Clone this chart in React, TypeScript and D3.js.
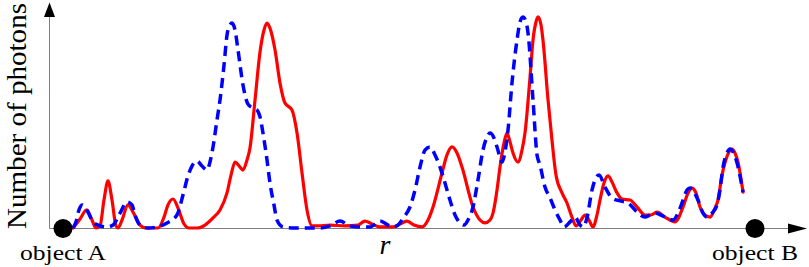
import React from "react";
import * as d3 from "d3";

// r: position between object A (0) and object B (100); counts in arbitrary units (0-100)
const redR = [1.45, 2.46, 3.42, 4.19, 4.77, 5.35, 5.92, 6.5, 7.08, 7.66, 7.95, 8.53, 9.39, 10.12, 11.13, 11.99, 13.73, 14.6, 15.17, 15.9, 16.62, 17.49, 18.21, 19.36, 20.52, 21.68, 22.69, 23.7, 24.28, 24.86, 25.58, 26.01, 26.59, 27.02, 27.75, 28.47, 29.05, 29.48, 29.91, 30.64, 31.36, 32.08, 33.09, 33.82, 34.54, 35.26, 35.98, 36.85, 38.58, 40.75, 42.63, 43.64, 44.65, 45.81, 47.69, 48.7, 49.71, 50.72, 51.88, 52.75, 53.47, 54.77, 55.49, 56.21, 56.94, 57.66, 59.25, 60.26, 60.98, 61.71, 62.14, 62.72, 63.15, 63.73, 64.16, 64.6, 65.03, 65.75, 66.33, 66.76, 67.49, 67.92, 68.35, 68.64, 69.08, 69.36, 70.09, 70.66, 71.24, 72.11, 72.83, 73.55, 74.13, 74.86, 75.43, 76.01, 76.59, 77.17, 77.6, 78.18, 78.76, 79.34, 80.06, 80.78, 81.94, 82.95, 84.1, 84.97, 85.84, 86.99, 88.44, 89.6, 90.32, 90.9, 91.47, 92.05, 92.77, 93.5, 94.22, 94.65, 95.23, 95.66, 96.24, 96.68, 97.11, 97.54, 98.27];
const redCounts = [0, 4.3, 8.6, 3.8, 0, 1.0, 13.3, 22.4, 13.3, 1.0, 0, 3.8, 11.0, 7.6, 1.4, 0, 0, 5.2, 11.0, 13.8, 9.5, 1.9, 0, 0, 1.4, 4.8, 8.6, 16.7, 25.2, 31.4, 29.0, 27.6, 32.4, 38.1, 61.0, 83.8, 94.3, 97.6, 95.2, 84.8, 69.0, 59.5, 56.2, 45.2, 26.2, 8.6, 1.0, 1.0, 1.4, 1.0, 1.4, 3.3, 1.9, 0.5, 0.5, 1.9, 3.3, 1.4, 0.5, 3.8, 10.0, 26.2, 34.8, 38.6, 35.7, 29.0, 10.0, 3.8, 2.4, 3.8, 7.1, 18.1, 29.0, 40.5, 45.2, 41.0, 35.7, 31.4, 37.1, 45.2, 71.9, 89.5, 98.1, 100.5, 96.7, 89.5, 61.0, 41.9, 25.2, 16.7, 11.9, 5.2, 1.0, 3.8, 6.2, 3.8, 0.5, 6.2, 13.3, 21.4, 24.8, 21.9, 16.7, 13.8, 13.3, 10.0, 6.2, 6.2, 7.6, 5.2, 2.9, 10.0, 16.7, 19.0, 16.7, 10.0, 6.2, 5.2, 9.5, 13.3, 25.2, 31.0, 36.2, 37.6, 35.7, 31.4, 17.1];

const blueR = [1.45, 1.88, 2.31, 2.75, 3.18, 3.61, 4.34, 5.06, 6.36, 7.23, 8.24, 9.25, 9.97, 10.4, 11.13, 12.28, 13.58, 15.03, 16.47, 17.34, 18.06, 18.64, 19.36, 20.09, 20.81, 21.24, 21.68, 22.25, 22.69, 23.27, 23.7, 24.13, 24.42, 24.86, 25.29, 26.01, 26.73, 27.46, 28.03, 28.47, 28.9, 29.48, 29.91, 30.49, 30.92, 31.79, 33.53, 37.14, 38.58, 40.03, 41.47, 42.92, 44.36, 45.81, 46.97, 47.69, 48.41, 49.28, 50.14, 50.87, 51.59, 52.31, 53.03, 53.76, 54.48, 55.2, 55.92, 56.65, 57.37, 57.95, 58.53, 59.25, 59.97, 60.69, 61.27, 61.71, 62.28, 62.72, 63.44, 63.87, 64.31, 64.88, 65.32, 65.61, 66.04, 66.47, 66.91, 67.2, 67.92, 68.5, 68.93, 69.65, 70.38, 71.1, 71.82, 72.4, 73.27, 73.99, 74.71, 75.14, 75.72, 76.45, 76.88, 77.46, 78.32, 79.34, 80.49, 81.65, 82.95, 84.1, 84.83, 85.55, 86.71, 88.15, 88.87, 89.6, 90.17, 90.61, 91.18, 91.76, 92.49, 93.06, 93.79, 94.51, 94.94, 95.38, 95.95, 96.39, 96.82, 97.4, 98.27];
const blueCounts = [0, 2.9, 8.6, 11.0, 10.0, 7.6, 2.9, 1.4, 0.5, 1.4, 7.1, 12.4, 11.0, 6.2, 1.4, 0, 0.5, 2.4, 6.2, 15.7, 24.8, 29.5, 31.9, 29.5, 27.6, 31.4, 38.6, 51.4, 61.0, 77.6, 91.9, 96.7, 97.6, 94.3, 84.8, 68.1, 59.0, 57.1, 56.2, 52.9, 45.2, 32.4, 21.4, 11.0, 3.8, 0.5, 0, 0, 1.0, 3.3, 1.0, 0.5, 0.5, 3.3, 1.4, 0.5, 1.4, 5.2, 10.0, 18.1, 29.0, 37.1, 38.6, 34.8, 29.0, 21.4, 13.3, 6.2, 2.4, 1.4, 3.8, 10.0, 22.9, 37.1, 43.3, 45.2, 42.9, 38.6, 31.4, 36.2, 46.7, 69.0, 82.4, 89.5, 98.1, 100.5, 98.1, 92.9, 61.0, 34.8, 30.0, 19.5, 14.3, 8.6, 3.8, 0.5, 2.9, 5.2, 1.4, 0.5, 4.8, 18.1, 22.9, 25.2, 19.5, 14.3, 12.9, 11.9, 7.6, 5.2, 6.2, 7.1, 5.7, 3.8, 7.1, 13.3, 18.1, 19.0, 17.1, 13.3, 7.1, 5.2, 7.1, 11.0, 18.1, 29.0, 35.7, 37.6, 36.2, 31.0, 17.1];

const objectLabels = ["object A", "object B"];
const objectR = [0, 100];
const yLabel = "Number of photons";
const xLabel = "r";

const W = 809;
const H = 267;

export default function App() {
  const x = d3.scaleLinear().domain([0, 100]).range([63, 755]);
  const y = d3.scaleLinear().domain([0, 100]).range([228, 18]);

  const line = d3
    .line<[number, number]>()
    .x((d) => x(d[0]))
    .y((d) => y(d[1]))
    .curve(d3.curveMonotoneX);

  const red = redR.map((r, i) => [r, redCounts[i]] as [number, number]);
  const blue = blueR.map((r, i) => [r, blueCounts[i]] as [number, number]);

  const axisX = 49.5;
  const axisY = 228.5;
  const font = "'Liberation Serif', 'Times New Roman', serif";

  return (
    <svg
      width={W}
      height={H}
      viewBox={`0 0 ${W} ${H}`}
      style={{ position: "absolute", left: 0, top: 0, background: "#fff" }}
    >
      <rect x={0} y={0} width={W} height={H} fill="#fff" />
      {/* axes */}
      <line x1={axisX} y1={axisY} x2={axisX} y2={16} stroke="#7f7f7f" strokeWidth={1} />
      <line x1={axisX} y1={axisY} x2={790} y2={axisY} stroke="#7f7f7f" strokeWidth={1} />
      <polygon points={`${axisX},2.5 ${axisX - 5.5},17 ${axisX + 5.5},17`} fill="#000" />
      <polygon points={`807,${axisY} 788,${axisY - 5} 788,${axisY + 5}`} fill="#000" />

      {/* curves */}
      <path d={line(red) || ""} fill="none" stroke="#ff0000" strokeWidth={3.2} strokeLinejoin="round" strokeLinecap="round" />
      <path d={line(blue) || ""} fill="none" stroke="#0000ff" strokeWidth={3.5} strokeDasharray="10,6" strokeLinejoin="round" />

      {/* objects */}
      {objectR.map((r, i) => (
        <g key={i}>
          <circle cx={x(r)} cy={axisY} r={9.5} fill="#000" />
          <text
            x={x(r)}
            y={260}
            textAnchor="middle"
            fontFamily={font}
            fontSize={20}
            textLength={86}
            lengthAdjust="spacingAndGlyphs"
            fill="#000"
          >
            {objectLabels[i]}
          </text>
        </g>
      ))}

      {/* axis labels */}
      <text
        x={385}
        y={254}
        textAnchor="middle"
        fontFamily={font}
        fontStyle="italic"
        fontSize={28}
        fill="#000"
      >
        {xLabel}
      </text>
      <text
        transform={`translate(26,116) rotate(-90)`}
        textAnchor="middle"
        fontFamily={font}
        fontSize={27}
        textLength={226}
        lengthAdjust="spacingAndGlyphs"
        fill="#000"
      >
        {yLabel}
      </text>
    </svg>
  );
}
